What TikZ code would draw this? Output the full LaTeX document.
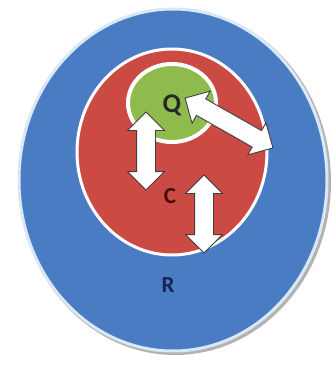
\documentclass[tikz,border=0pt]{standalone}
\usepackage{fontspec}
\setmainfont{Carlito}
\usetikzlibrary{shapes.arrows}
\definecolor{rblue}{HTML}{4A7CC4}
\definecolor{rred}{HTML}{CB4A43}
\definecolor{rgreen}{HTML}{8FBB4D}
\definecolor{rrim}{HTML}{D8E8F6}
\tikzset{
  dbl/.style={double arrow, draw=black!75, line width=0.9pt, fill=white,
    minimum width=36pt, double arrow head extend=9pt, inner xsep=0pt, inner ysep=9pt,
    double arrow tip angle=90},
  lbl/.style={font=\bfseries, inner sep=0pt}
}
\begin{document}
\begin{tikzpicture}[x=1pt,y=-1pt]
\useasboundingbox (0,0) rectangle (333,365);
% outer
\fill[black!30] (175,182) ellipse [x radius=156, y radius=173];
\fill[rblue, draw=rrim, line width=3pt] (173,180) ellipse [x radius=154, y radius=171];
% red
\fill[rred, draw=white, line width=3pt] (172,152) ellipse [x radius=95, y radius=103];
% green
\fill[rgreen, draw=white, line width=4pt] (172,103) ellipse [x radius=44, y radius=39];
% arrows
\node[dbl, minimum height=78pt, rotate=90] (a1) at (146,151) {};
\node[dbl, minimum height=78pt, rotate=90] (a2) at (204,214) {};
\node[dbl, minimum height=101pt, rotate=-29.6] (a3) at (229,123) {};
% labels
\node[lbl, font=\bfseries\fontsize{27}{27}\selectfont, text=black!85] (q) at (172,105) {Q};
\node[lbl, font=\bfseries\fontsize{23}{23}\selectfont, text={rgb,255:red,70;green,10;blue,10}] (c) at (170,196) {C};
\node[lbl, font=\bfseries\fontsize{23}{23}\selectfont, text={rgb,255:red,25;green,35;blue,85}] (r) at (168,285) {R};
\end{tikzpicture}
\end{document}
